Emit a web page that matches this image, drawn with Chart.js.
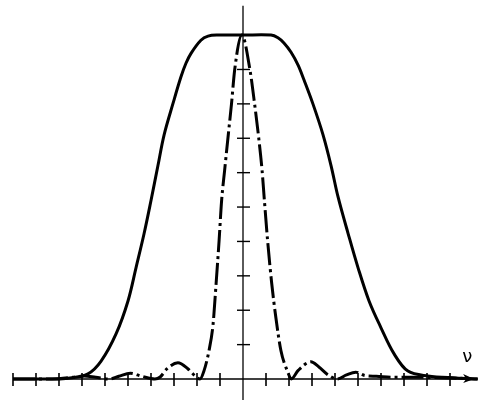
<!DOCTYPE html>
<html>
<head>
<meta charset="utf-8">
<script src="https://cdn.jsdelivr.net/npm/chart.js@4/dist/chart.umd.min.js"></script>
<style>
html,body{margin:0;padding:0;background:#fff;}
#wrap{width:478px;height:400px;}
</style>
</head>
<body>
<div id="wrap"><canvas id="c" width="478" height="400"></canvas></div>
<script>
// Wide flat-topped curve (solid)
const solidX = [-10.0, -8.3, -7.6, -6.74, -6.17, -5.52, -5.0, -4.65, -4.3, -4.0, -3.7, -3.43, -3.04, -2.70, -2.48, -2.26, -1.83, -1.52, -1.09, 0, 1.22, 1.52, 1.78, 2.09, 2.40, 2.65, 3.04, 3.48, 3.83, 4.13, 4.57, 5.0, 5.48, 6.0, 6.57, 7.17, 8.04, 9.26, 10.2];
const solidY = [0, 0, 0.02, 0.15, 0.52, 1.31, 2.27, 3.24, 4.23, 5.19, 6.2, 7.1, 8.02, 8.78, 9.18, 9.47, 9.85, 9.97, 10.0, 10.0, 10.0, 9.92, 9.77, 9.5, 9.12, 8.7, 8.0, 7.1, 6.2, 5.3, 4.23, 3.24, 2.27, 1.49, 0.73, 0.23, 0.09, 0.03, 0];
// Narrow peaked curve with side lobes (dash-dot)
const dashX = [-10.0, -8.3, -7.4, -6.9, -6.4, -5.8, -5.4, -4.9, -4.4, -3.83, -3.6, -3.3, -2.83, -2.4, -2.1, -1.87, -1.70, -1.48, -1.30, -1.17, -1.04, -0.93, -0.80, -0.62, -0.50, -0.36, -0.05, 0.30, 0.50, 0.68, 0.83, 0.93, 1.07, 1.25, 1.43, 1.65, 1.93, 2.10, 2.4, 2.95, 3.3, 3.7, 4.1, 4.5, 4.9, 5.3, 5.8, 6.5, 7.5, 9.0, 10.2];
const dashY = [0, 0, 0.05, 0.09, 0.05, 0, 0.08, 0.17, 0.08, 0, 0.06, 0.3, 0.47, 0.3, 0.1, 0, 0.23, 0.82, 1.60, 2.77, 4.02, 5.19, 6.06, 7.23, 8.0, 9.0, 10.0, 9.0, 8.02, 7.03, 6.06, 5.19, 4.02, 2.77, 1.78, 0.82, 0.23, 0, 0.25, 0.5, 0.35, 0.12, 0, 0.12, 0.2, 0.1, 0.08, 0.05, 0.05, 0.03, 0];
// Axis tick positions (no labels drawn)
const xTicks = [-10, -9, -8, -7, -6, -5, -4, -3, -2, -1, 1, 2, 3, 4, 5, 6, 7, 8, 9];
const yTicks = [1, 2, 3, 4, 5, 6, 7, 8, 9];
const axisLabel = "ν";

const toPts = (xs, ys) => xs.map((x, i) => ({x: x, y: ys[i]}));

const axesPlugin = {
  id: 'axesPlugin',
  beforeDraw(chart) {
    const ctx = chart.ctx;
    ctx.save();
    ctx.fillStyle = '#fff';
    ctx.fillRect(0, 0, chart.width, chart.height);
    ctx.restore();
  },
  beforeDatasetsDraw(chart) {
    const ctx = chart.ctx;
    const xs = chart.scales.x, ys = chart.scales.y;
    const x0 = xs.getPixelForValue(0), y0 = ys.getPixelForValue(0);
    ctx.save();
    ctx.strokeStyle = '#000';
    ctx.fillStyle = '#000';
    ctx.lineWidth = 1.6;
    ctx.beginPath();
    ctx.moveTo(xs.getPixelForValue(-10), y0);
    ctx.lineTo(xs.getPixelForValue(10.2), y0);
    ctx.stroke();
    ctx.lineWidth = 1.3;
    ctx.beginPath();
    ctx.moveTo(x0, ys.getPixelForValue(ys.min));
    ctx.lineTo(x0, ys.getPixelForValue(10.85));
    ctx.stroke();
    ctx.lineWidth = 1.6;
    xTicks.forEach(t => {
      const px = xs.getPixelForValue(t);
      ctx.beginPath();
      ctx.moveTo(px, y0 - 6);
      ctx.lineTo(px, y0 + 7);
      ctx.stroke();
    });
    ctx.lineWidth = 1.4;
    yTicks.forEach(t => {
      const py = ys.getPixelForValue(t);
      ctx.beginPath();
      ctx.moveTo(x0 - 6, py);
      ctx.lineTo(x0 + 7, py);
      ctx.stroke();
    });
    const ax = xs.getPixelForValue(10.05);
    ctx.beginPath();
    ctx.moveTo(ax, y0);
    ctx.lineTo(ax - 11, y0 - 5);
    ctx.lineTo(ax - 8, y0);
    ctx.lineTo(ax - 11, y0 + 4);
    ctx.closePath();
    ctx.fill();
    ctx.font = '18px "DejaVu Sans"';
    ctx.textAlign = 'center';
    ctx.textBaseline = 'middle';
    ctx.fillText(axisLabel, xs.getPixelForValue(9.75), ys.getPixelForValue(0.62));
    ctx.restore();
  }
};

new Chart(document.getElementById('c'), {
  type: 'line',
  data: {
    datasets: [
      {
        data: toPts(solidX, solidY),
        borderColor: '#000',
        borderWidth: 3,
        pointRadius: 0,
        fill: false,
        tension: 0.35
      },
      {
        data: toPts(dashX, dashY),
        borderColor: '#000',
        borderWidth: 3,
        borderDash: [22, 4, 3, 4],
        pointRadius: 0,
        fill: false,
        cubicInterpolationMode: 'monotone'
      }
    ]
  },
  options: {
    responsive: false,
    animation: false,
    layout: {padding: 0},
    plugins: {legend: {display: false}, tooltip: {enabled: false}},
    scales: {
      x: {type: 'linear', display: false, min: -10.565, max: 10.217},
      y: {type: 'linear', display: false, min: -0.61, max: 11.02}
    }
  },
  plugins: [axesPlugin]
});
</script>
</body>
</html>
